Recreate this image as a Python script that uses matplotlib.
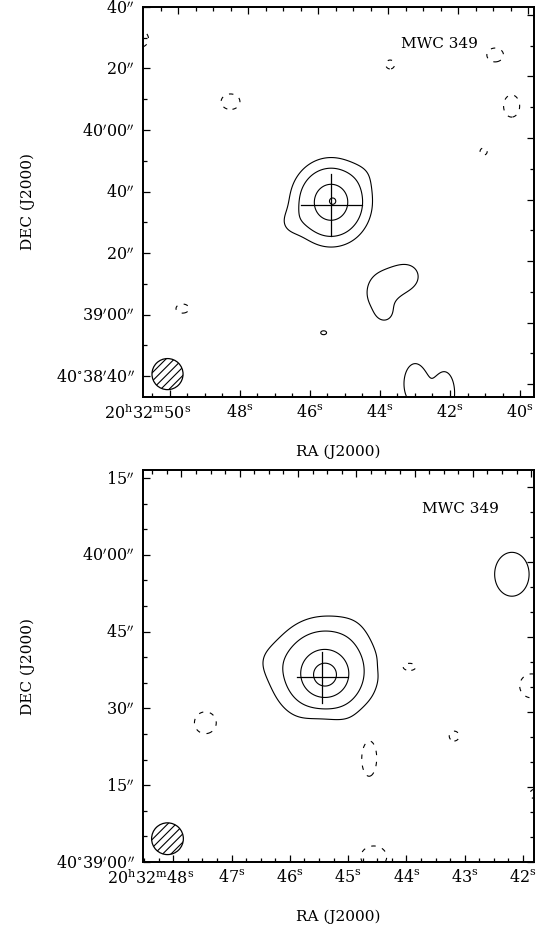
import numpy as np
import matplotlib
matplotlib.use("Agg")
import matplotlib.pyplot as plt
from matplotlib.patches import Ellipse
from matplotlib.transforms import ScaledTranslation

plt.rcParams['font.family'] = ['DejaVu Serif']
plt.rcParams['mathtext.fontset'] = 'dejavuserif'
plt.rcParams['hatch.linewidth'] = 0.8

# RA in seconds after 20h32m, Dec in arcsec above 40d38m00s
ARCSEC_PER_SEC = 11.38

levels_pos = [1, 2, 4, 8]
levels_neg = [-1]

# Upper map: emission components (halo, core, shape bumps, noise peaks)
top_ra = [45.40, 45.35, 46.60, 44.30,
          50.85, 43.71, 40.71, 48.27, 40.24, 41.04, 49.64,
          45.61, 44.00, 43.20, 43.85, 43.60, 43.00, 42.15]
top_dec = [96.5, 96.9, 89.5, 107.0,
           149.6, 141.3, 144.4, 129.2, 127.8, 113.0, 61.95,
           54.1, 67.0, 72.5, 60.0, 70.5, 37.5, 34.5]
top_amp = [5.22, 3.6, 0.6, 0.3,
           -1.5, -1.3, -1.5, -1.5, -1.5, -1.3, -1.4,
           1.15, 1.4, 1.3, 0.6, 0.4, 1.8, 1.6]
top_sx = [7.4, 1.5, 3.5, 4.0,
          3.0, 2.0, 3.0, 3.4, 2.9, 1.6, 2.6,
          1.8, 5.0, 4.0, 2.5, 3.5, 3.3, 3.3]
top_sy = [8.0, 1.5, 3.5, 4.0,
          3.0, 2.0, 2.5, 2.8, 4.0, 1.6, 1.8,
          1.2, 6.5, 4.0, 2.5, 3.5, 6.0, 7.0]

# Lower map
bot_ra = [45.41, 45.395, 46.45, 44.85, 45.45,
          42.19, 43.97, 41.85, 43.18, 47.45, 44.64, 44.56, 41.80]
bot_dec = [97.3, 96.5, 99.5, 107.0, 86.5,
           116.2, 98.1, 94.4, 84.6, 87.2, 80.5, 61.0, 73.3]
bot_amp = [4.37, 6.44, 0.35, 0.2, -0.45,
           1.8, -1.3, -1.5, -1.2, -1.6, -1.5, -1.6, -1.2]
bot_sx = [6.2, 2.25, 3.0, 3.0, 3.0,
          3.1, 2.4, 2.6, 1.6, 2.2, 1.7, 2.6, 1.5]
bot_sy = [6.2, 2.25, 3.0, 3.0, 3.0,
          3.95, 1.3, 2.6, 1.6, 2.2, 4.2, 2.2, 1.5]

# source position marker (RA s, Dec ", arm ")
top_cross = (45.39, 95.6, 10.0)
bot_cross = (45.44, 96.1, 5.0)

# beam (RA s, Dec ", FWHM ")
top_beam = (50.07, 40.65, 10.1)
bot_beam = (48.10, 64.55, 6.2)

source_name = "MWC 349"


def make_field(ra, dec, amp, sx, sy, xlim, ylim):
    gx = np.linspace(min(xlim), max(xlim), 600)
    gy = np.linspace(min(ylim), max(ylim), 600)
    X, Y = np.meshgrid(gx, gy)
    Z = np.zeros_like(X)
    for r0, d0, a, s1, s2 in zip(ra, dec, amp, sx, sy):
        Z += a * np.exp(-0.5 * (((X - r0) * ARCSEC_PER_SEC / s1) ** 2 + ((Y - d0) / s2) ** 2))
    return X, Y, Z


def ra_labels(ticks):
    first = max(ticks)
    out = []
    for t in ticks:
        if t == first:
            out.append(r"$20^{\rm h}32^{\rm m}%02d^{\rm s}$" % round(t))
        else:
            out.append(r"$%02d^{\rm s}$" % round(t))
    return out


def dec_labels(ticks):
    lowest = min(ticks)
    out = []
    for t in ticks:
        total = 38 * 60 + t
        m = int(total // 60)
        s = int(round(total - m * 60))
        if t == lowest:
            out.append(r"$40^{\circ}%02d^{\prime}%02d^{\prime\prime}$" % (m, s))
        elif s == 0:
            out.append(r"$%02d^{\prime}00^{\prime\prime}$" % m)
        else:
            out.append(r"$%02d^{\prime\prime}$" % s)
    return out


def draw_panel(ax, comps, xlim, ylim, ra_step, ra_minor, dec_step, dec_minor,
               cross, beam, shift_ra, shift_dec, label_pos):
    X, Y, Z = make_field(*comps, xlim, ylim)
    ax.contour(X, Y, Z, levels=levels_pos, colors='k', linewidths=0.8)
    ax.contour(X, Y, Z, levels=levels_neg, colors='k', linewidths=0.8,
               linestyles=[(0, (4, 6))])

    cra, cdec, arm = cross
    ax.plot([cra + arm / ARCSEC_PER_SEC, cra - arm / ARCSEC_PER_SEC], [cdec, cdec], color='k', lw=0.9)
    ax.plot([cra, cra], [cdec - arm, cdec + arm], color='k', lw=0.9)

    bra, bdec, bsize = beam
    ax.add_patch(Ellipse((bra, bdec), width=bsize / ARCSEC_PER_SEC, height=bsize,
                         facecolor='none', edgecolor='k', lw=0.9, hatch='////'))

    ax.text(label_pos[0], label_pos[1], source_name, transform=ax.transAxes,
            ha='center', va='center', fontsize=11)

    ra_major = np.arange(np.ceil(min(xlim) / ra_step) * ra_step, max(xlim) + 1e-6, ra_step)
    ra_min = np.arange(np.ceil(min(xlim) / ra_minor) * ra_minor, max(xlim), ra_minor)
    dec_major = np.arange(np.ceil(min(ylim) / dec_step) * dec_step, max(ylim) + 1e-6, dec_step)
    dec_min = np.arange(np.ceil(min(ylim) / dec_minor) * dec_minor, max(ylim) + 1e-6, dec_minor)

    # top / right ticks sit a little off the labelled ones
    axt = ax.twiny()
    axr = ax.twinx()
    for a in (ax, axt, axr):
        a.set_xlim(xlim)
        a.set_ylim(ylim)

    ax.set_xticks(ra_major, ra_labels(list(ra_major)))
    ax.set_xticks(ra_min, minor=True)
    ax.set_yticks(dec_major, dec_labels(list(dec_major)))
    ax.set_yticks(dec_min, minor=True)
    ax.tick_params(which='both', direction='in', top=False, right=False, labelsize=11.5)
    ax.tick_params(axis='x', pad=5)
    ax.tick_params(axis='y', pad=6)
    ax.tick_params(which='major', length=5, width=0.9)
    ax.tick_params(which='minor', length=3, width=0.9)

    # the full RA label keeps its seconds under the tick
    first = ax.get_xticklabels()[-1]
    first.set_ha('right')
    first.set_transform(first.get_transform() + ScaledTranslation(0.21, 0, ax.figure.dpi_scale_trans))

    axt.set_xticks(ra_major - shift_ra)
    axt.set_xticks(ra_min - shift_ra, minor=True)
    axt.tick_params(axis='x', which='both', direction='in', labeltop=False, width=0.9)
    axt.tick_params(axis='x', which='major', length=5)
    axt.tick_params(axis='x', which='minor', length=3)

    axr.set_yticks(dec_major - shift_dec)
    axr.set_yticks(dec_min - shift_dec, minor=True)
    axr.tick_params(axis='y', which='both', direction='in', labelright=False, width=0.9)
    axr.tick_params(axis='y', which='major', length=5)
    axr.tick_params(axis='y', which='minor', length=3)

    for a in (ax, axt, axr):
        for sp in a.spines.values():
            sp.set_linewidth(1.1)

    ax.set_xlabel("RA (J2000)", fontsize=11, va='center')
    ax.set_ylabel("DEC (J2000)", fontsize=11, va='center')


fig = plt.figure(figsize=(5.49, 9.30), dpi=100)

ax1 = fig.add_axes([0.2605, 0.5731, 0.7122, 0.4194])
draw_panel(ax1, (top_ra, top_dec, top_amp, top_sx, top_sy),
           (50.77, 39.60), (33.2, 160.0), 2, 0.5, 20, 10,
           top_cross, top_beam, 0.23, 2.6, (0.757, 0.905))
ax1.xaxis.set_label_coords(0.5, -0.14)
ax1.yaxis.set_label_coords(-0.294, 0.5)

ax2 = fig.add_axes([0.2605, 0.0731, 0.7122, 0.4215])
draw_panel(ax2, (bot_ra, bot_dec, bot_amp, bot_sx, bot_sy),
           (48.52, 41.81), (60.0, 136.56), 1, 0.25, 15, 5,
           bot_cross, bot_beam, 0.14, 1.8, (0.813, 0.90))
ax2.xaxis.set_label_coords(0.5, -0.139)
ax2.yaxis.set_label_coords(-0.294, 0.5)

fig.savefig("out.png", dpi=100)
